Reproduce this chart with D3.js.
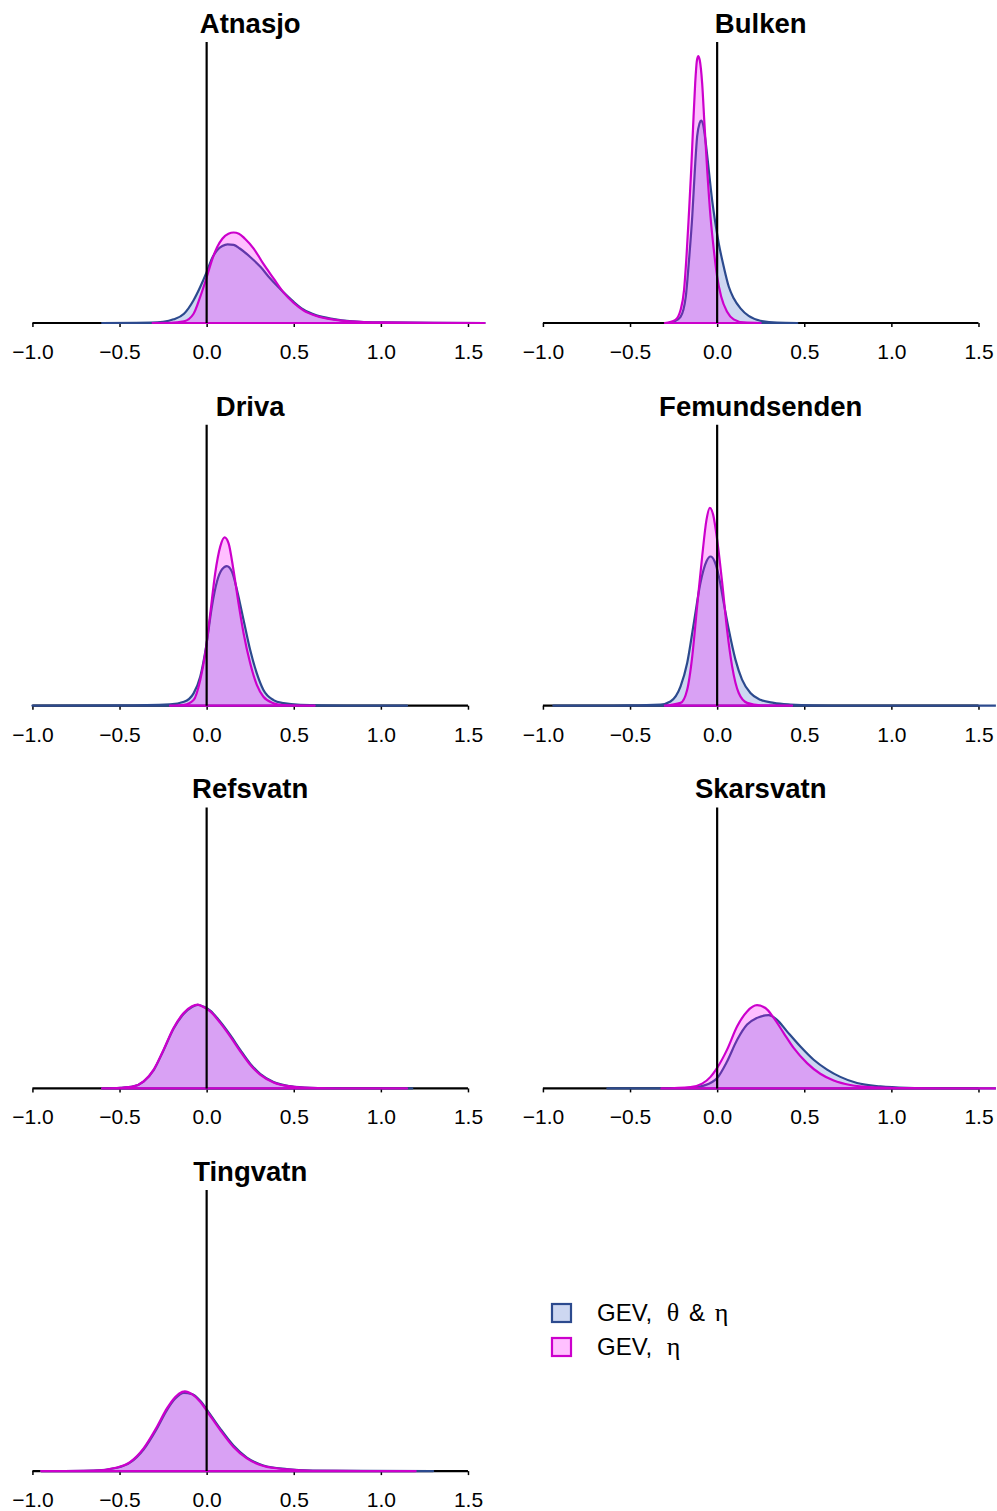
<!DOCTYPE html>
<html>
<head>
<meta charset="utf-8">
<script src="https://cdn.jsdelivr.net/npm/d3@7"></script>
<style>
  body { margin: 0; background: #fff; }
  svg { display: block; font-family: "Liberation Sans", Arial, sans-serif; }
</style>
</head>
<body>
<script>
// panel names, in reading order
const stations = ["Atnasjo", "Bulken", "Driva", "Femundsenden", "Refsvatn", "Skarsvatn", "Tingvatn"];
const xTicks = [-1, -0.5, 0, 0.5, 1, 1.5];
const seriesLabels = ["GEV, θ & η", "GEV, η"];

// posterior densities: [x, density]
// "theta & eta" model (blue)
const atnasjoThetaEta = [[-0.60,0],[-0.32,0.01],[-0.25,0.04],[-0.19,0.13],[-0.13,0.33],[-0.075,0.81],[-0.037,1.28],[0,1.81],[0.03,2.29],[0.06,2.59],[0.09,2.74],[0.12,2.80],[0.155,2.78],[0.19,2.65],[0.25,2.35],[0.31,1.99],[0.365,1.58],[0.44,1.10],[0.50,0.75],[0.555,0.48],[0.63,0.27],[0.73,0.14],[0.82,0.07],[1.01,0.02],[1.3,0.005],[1.65,0]];
const bulkenThetaEta = [[-0.28,0],[-0.25,0.04],[-0.21,0.22],[-0.18,0.94],[-0.163,2.12],[-0.143,3.78],[-0.128,5.44],[-0.115,6.63],[-0.101,7.11],[-0.092,7.20],[-0.08,7.05],[-0.065,6.39],[-0.048,5.44],[-0.029,4.38],[-0.01,3.55],[0.009,2.84],[0.038,2.00],[0.067,1.29],[0.095,0.88],[0.134,0.52],[0.181,0.25],[0.248,0.08],[0.344,0.01],[0.46,0]];
const drivaThetaEta = [[-1.0,0],[-0.5,0.01],[-0.21,0.05],[-0.13,0.14],[-0.075,0.44],[-0.037,1.03],[0,2.22],[0.03,3.52],[0.059,4.41],[0.088,4.85],[0.116,4.97],[0.145,4.77],[0.174,4.12],[0.212,3.05],[0.25,1.98],[0.288,1.15],[0.326,0.56],[0.384,0.20],[0.441,0.09],[0.537,0.03],[0.8,0.005],[1.15,0]];
const femundThetaEta = [[-0.94,0],[-0.5,0.01],[-0.325,0.04],[-0.268,0.15],[-0.21,0.69],[-0.172,1.52],[-0.134,2.94],[-0.096,4.37],[-0.061,5.14],[-0.038,5.31],[-0.015,5.14],[0.01,4.60],[0.038,3.65],[0.067,2.70],[0.105,1.64],[0.143,0.93],[0.191,0.45],[0.248,0.21],[0.325,0.10],[0.42,0.04],[0.55,0.01],[1.0,0.003],[1.65,0]];
const refsvatnThetaEta = [[-0.60,0],[-0.495,0.02],[-0.42,0.07],[-0.362,0.24],[-0.304,0.65],[-0.247,1.36],[-0.19,2.12],[-0.132,2.65],[-0.084,2.90],[-0.05,2.97],[-0.018,2.91],[0.021,2.77],[0.078,2.37],[0.135,1.90],[0.193,1.37],[0.25,0.88],[0.307,0.52],[0.384,0.23],[0.479,0.08],[0.594,0.02],[0.8,0.005],[1.18,0]];
const skarsvatnThetaEta = [[-0.63,0],[-0.3,0.005],[-0.153,0.02],[-0.077,0.10],[0,0.37],[0.057,0.96],[0.115,1.73],[0.172,2.27],[0.229,2.51],[0.296,2.61],[0.344,2.44],[0.401,2.03],[0.478,1.49],[0.554,1.02],[0.631,0.67],[0.707,0.41],[0.803,0.19],[0.937,0.07],[1.09,0.02],[1.3,0.005],[1.65,0]];
const tingvatnThetaEta = [[-0.95,0],[-0.648,0.02],[-0.514,0.12],[-0.438,0.31],[-0.362,0.77],[-0.285,1.52],[-0.228,2.17],[-0.18,2.58],[-0.13,2.78],[-0.084,2.74],[-0.037,2.50],[0.011,2.10],[0.078,1.51],[0.154,0.91],[0.231,0.48],[0.326,0.20],[0.46,0.07],[0.61,0.02],[0.9,0.005],[1.3,0]];

// "eta" only model (magenta)
const atnasjoEta = [[-0.31,0],[-0.21,0.005],[-0.13,0.06],[-0.075,0.33],[-0.037,0.93],[0,1.62],[0.03,2.23],[0.06,2.70],[0.09,3.00],[0.125,3.18],[0.155,3.22],[0.185,3.18],[0.22,3.00],[0.27,2.65],[0.325,2.11],[0.385,1.58],[0.44,1.10],[0.50,0.71],[0.555,0.45],[0.63,0.25],[0.73,0.12],[0.82,0.06],[1.01,0.02],[1.3,0.005],[1.65,0]];
const bulkenEta = [[-0.30,0],[-0.24,0.11],[-0.21,0.46],[-0.19,1.17],[-0.176,2.36],[-0.163,3.78],[-0.149,5.44],[-0.138,6.99],[-0.126,8.53],[-0.117,9.30],[-0.109,9.50],[-0.10,9.36],[-0.086,8.53],[-0.073,7.11],[-0.057,5.44],[-0.038,3.78],[-0.019,2.60],[0,1.65],[0.023,0.94],[0.057,0.40],[0.095,0.13],[0.153,0.02],[0.25,0]];
const drivaEta = [[-0.21,0],[-0.13,0.03],[-0.075,0.20],[-0.037,0.91],[-0.008,1.86],[0.021,3.29],[0.049,4.71],[0.078,5.66],[0.103,5.99],[0.126,5.78],[0.154,4.83],[0.183,3.64],[0.212,2.58],[0.25,1.51],[0.288,0.74],[0.326,0.32],[0.384,0.09],[0.441,0.02],[0.62,0]];
const femundEta = [[-0.30,0],[-0.21,0.10],[-0.172,0.57],[-0.143,1.75],[-0.115,3.53],[-0.086,5.31],[-0.061,6.62],[-0.042,7.04],[-0.023,6.80],[0,5.91],[0.029,4.37],[0.057,2.70],[0.086,1.40],[0.124,0.45],[0.172,0.10],[0.25,0.01],[0.43,0]];
const refsvatnEta = [[-0.60,0],[-0.495,0.02],[-0.42,0.07],[-0.362,0.25],[-0.304,0.67],[-0.247,1.38],[-0.19,2.15],[-0.132,2.68],[-0.084,2.92],[-0.052,2.98],[-0.018,2.90],[0.021,2.74],[0.078,2.33],[0.135,1.85],[0.193,1.32],[0.25,0.84],[0.307,0.49],[0.384,0.21],[0.479,0.07],[0.594,0.02],[0.8,0.004],[1.15,0]];
const skarsvatnEta = [[-0.32,0],[-0.153,0.05],[-0.086,0.17],[-0.038,0.41],[0,0.73],[0.057,1.38],[0.115,2.21],[0.172,2.74],[0.229,2.96],[0.277,2.86],[0.325,2.51],[0.382,1.97],[0.439,1.44],[0.516,0.90],[0.592,0.52],[0.669,0.28],[0.764,0.12],[0.898,0.04],[1.09,0.01],[1.65,0]];
const tingvatnEta = [[-0.95,0],[-0.648,0.02],[-0.514,0.13],[-0.438,0.33],[-0.362,0.81],[-0.285,1.58],[-0.228,2.23],[-0.18,2.64],[-0.14,2.82],[-0.125,2.84],[-0.084,2.74],[-0.037,2.47],[0.011,2.05],[0.078,1.46],[0.154,0.86],[0.231,0.45],[0.326,0.18],[0.46,0.06],[0.61,0.01],[0.9,0.004],[1.2,0]];

const thetaEta = [atnasjoThetaEta, bulkenThetaEta, drivaThetaEta, femundThetaEta, refsvatnThetaEta, skarsvatnThetaEta, tingvatnThetaEta];
const etaOnly = [atnasjoEta, bulkenEta, drivaEta, femundEta, refsvatnEta, skarsvatnEta, tingvatnEta];

const width = 997, height = 1511;
const colW = 510.5, rowH = 382.7;
const plotLeft = 15, plotRight = 485.4, plotTop = 42, plotBottom = 323;

const blueLine = "#2c4a8e", blueFill = "#cdd7f1";
const magLine = "#cc00cc", magFill = "rgba(255,0,255,0.25)";

const svg = d3.select("body").append("svg")
  .attr("width", width)
  .attr("height", height);

const x = d3.scaleLinear().domain([-1.1, 1.6]).range([plotLeft, plotRight]);
const y = d3.scaleLinear().domain([0, 10]).range([plotBottom, plotTop]);

const area = d3.area()
  .x(d => x(d[0]))
  .y0(y(0))
  .y1(d => y(d[1]))
  .curve(d3.curveMonotoneX);

stations.forEach((name, i) => {
  const col = i % 2, row = Math.floor(i / 2);
  const g = svg.append("g")
    .attr("transform", `translate(${col * colW},${row * rowH})`);

  g.append("clipPath").attr("id", "clip" + i)
    .append("rect")
    .attr("x", plotLeft).attr("y", plotTop - 5)
    .attr("width", plotRight - plotLeft).attr("height", plotBottom - plotTop + 10);

  // x axis
  const axis = g.append("g")
    .attr("transform", `translate(0,${plotBottom})`)
    .call(d3.axisBottom(x).tickValues(xTicks).tickSize(4).tickPadding(17)
      .tickFormat(d => d3.format(".1f")(d).replace("-", "\u2212")));
  axis.select(".domain").remove();
  axis.append("line")
    .attr("x1", x(xTicks[0])).attr("x2", x(xTicks[xTicks.length - 1]))
    .attr("stroke", "#000").attr("stroke-width", 2.2);
  axis.selectAll(".tick line").attr("stroke", "#000").attr("stroke-width", 1.5);
  axis.selectAll(".tick text")
    .attr("fill", "#000")
    .style("font-size", "21px")
    .style("font-family", "'Liberation Sans', Arial, sans-serif");

  const curves = g.append("g").attr("clip-path", `url(#clip${i})`);
  curves.append("path")
    .datum(thetaEta[i])
    .attr("d", area)
    .attr("fill", blueFill)
    .attr("stroke", blueLine)
    .attr("stroke-width", 2.2)
    .attr("stroke-linejoin", "round");
  curves.append("path")
    .datum(etaOnly[i])
    .attr("d", area)
    .attr("fill", magFill)
    .attr("stroke", magLine)
    .attr("stroke-width", 2.2)
    .attr("stroke-linejoin", "round");

  // reference line at zero
  g.append("line")
    .attr("x1", x(0)).attr("x2", x(0))
    .attr("y1", y.range()[1]).attr("y2", y.range()[0])
    .attr("stroke", "#000").attr("stroke-width", 2.2);

  g.append("text")
    .attr("x", (plotLeft + plotRight) / 2)
    .attr("y", 33)
    .attr("text-anchor", "middle")
    .style("font-size", "27.5px")
    .style("font-weight", "bold")
    .text(name);
});

// legend
const legend = svg.append("g").attr("transform", "translate(551,1304)");
const legendFills = [blueFill, "#ffc0ff"];
const legendLines = [blueLine, magLine];
seriesLabels.forEach((lab, k) => {
  const row = legend.append("g").attr("transform", `translate(0,${k * 34})`);
  row.append("rect")
    .attr("x", 1).attr("y", 0).attr("width", 19).attr("height", 18)
    .attr("fill", legendFills[k])
    .attr("stroke", legendLines[k])
    .attr("stroke-width", 2.2);
  const t = row.append("text")
    .attr("x", 46).attr("y", 17)
    .style("font-size", "24px");
  // greek letters in a serif face, like the original, with the wider spacing
  let first = true;
  lab.split(/([θη&])/).forEach(part => {
    if (!part) return;
    const span = t.append("tspan").text(part);
    if (/[θη&]/.test(part)) {
      span.attr("dx", first ? 8 : 3);
      first = false;
    }
    if (/[θη]/.test(part)) span.style("font-family", "'Liberation Serif', 'DejaVu Serif', serif").style("font-size", "26px");
  });
});
</script>
</body>
</html>
